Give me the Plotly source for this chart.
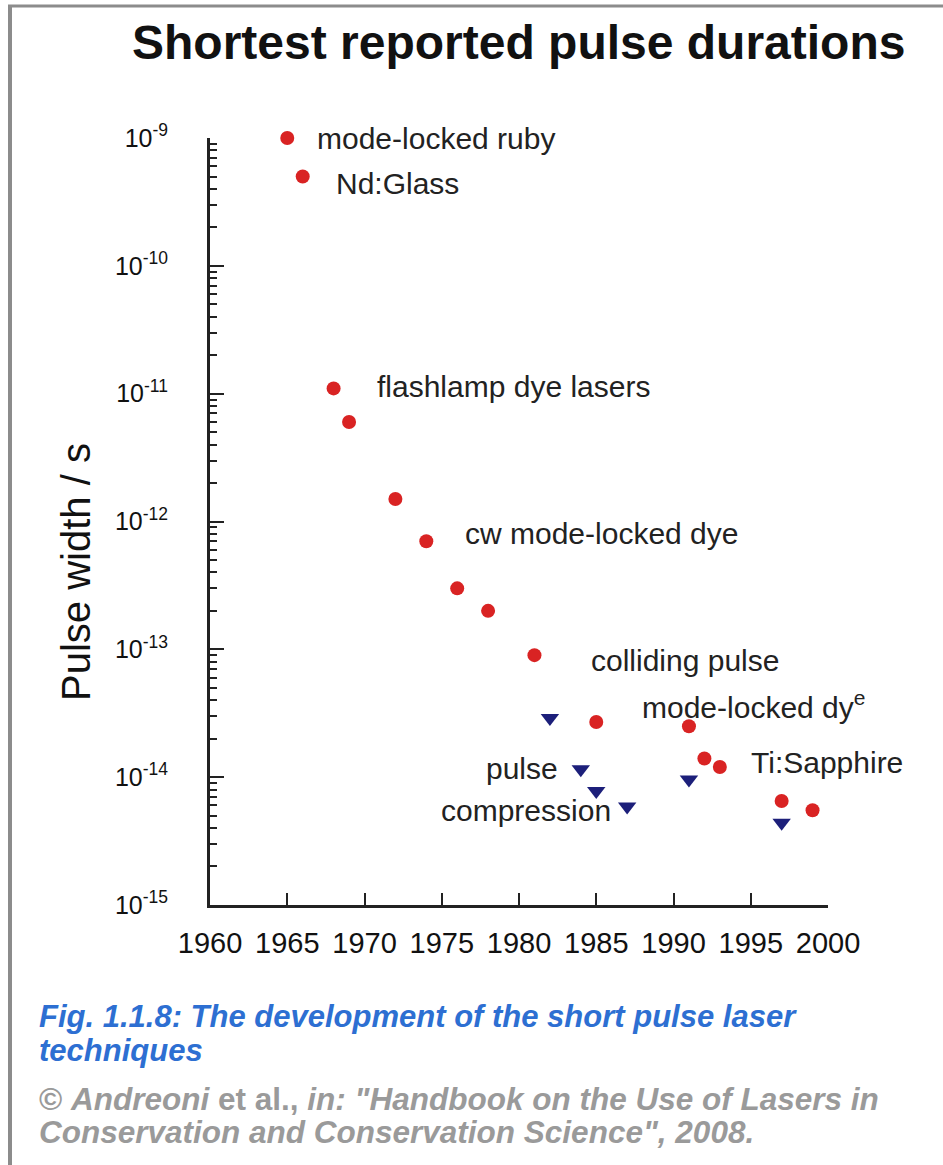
import numpy as np
import plotly.graph_objects as go

# Shortest reported pulse durations by year
red_years = [1965, 1966, 1968, 1969, 1972, 1974, 1976, 1978, 1981, 1985, 1991, 1992, 1993, 1997, 1999]
red_widths = [1e-9, 5e-10, 1.1e-11, 6e-12, 1.5e-12, 7e-13, 3e-13, 2e-13, 9e-14, 2.7e-14, 2.5e-14,
              1.4e-14, 1.2e-14, 6.5e-15, 5.5e-15]

# Pulse-compression results
blue_years = [1982, 1984, 1985, 1987, 1991, 1997]
blue_widths = [2.9e-14, 1.15e-14, 7.8e-15, 5.9e-15, 9.6e-15, 4.4e-15]

x_ticks = [1960, 1965, 1970, 1975, 1980, 1985, 1990, 1995, 2000]
y_decades = [-15, -14, -13, -12, -11, -10, -9]
y_ticktext = ["10<sup>%d</sup>" % d for d in y_decades]

# Technique labels: (text, year, pulse width, anchor)
labels = [
    ("mode-locked ruby", 1966.8, 1.0e-9, "left"),
    ("Nd:Glass", 1968.0, 4.4e-10, "left"),
    ("flashlamp dye lasers", 1970.7, 1.13e-11, "left"),
    ("cw mode-locked dye", 1976.4, 8.1e-13, "left"),
    ("colliding pulse", 1984.5, 8.2e-14, "left"),
    ("mode-locked dy<sup>e</sup>", 1987.8, 3.7e-14, "left"),
    ("Ti:Sapphire", 1994.9, 1.31e-14, "left"),
    ("pulse", 1982.65, 1.16e-14, "right"),
    ("compression", 1986.1, 5.5e-15, "right"),
]

W, H = 943, 1165
L, R, T, B = 210, 828, 138, 905  # plot area in pixels


def px(xp):
    return (xp - L) / (R - L)


def py(yp):
    return (B - yp) / (B - T)


FONT = "Liberation Sans, Arial, sans-serif"

fig = go.Figure()
fig.add_trace(go.Scatter(
    x=red_years, y=red_widths, mode="markers",
    marker=dict(symbol="circle", size=14, color="#d92323", line=dict(width=0)),
    cliponaxis=False, showlegend=False,
))
fig.add_trace(go.Scatter(
    x=blue_years, y=blue_widths, mode="markers",
    marker=dict(symbol="triangle-down", size=16, color="#1c1f7a", line=dict(width=0)),
    cliponaxis=False, showlegend=False,
))

minor_vals = [k * 10.0 ** d for d in y_decades[:-1] for k in range(2, 10)]

fig.update_xaxes(
    range=[x_ticks[0], x_ticks[-1]], tickmode="array", tickvals=x_ticks,
    ticks="inside", ticklen=12, tickwidth=2, tickcolor="#222",
    showline=True, linewidth=3, linecolor="#222", showgrid=False, zeroline=False,
    tickfont=dict(family=FONT, size=29, color="#111"), ticklabelstandoff=10,
)
fig.update_yaxes(
    type="log", range=[y_decades[0] - 0.0005, y_decades[-1] + 0.0005],
    tickmode="array", tickvals=[10.0 ** d for d in y_decades], ticktext=y_ticktext,
    ticks="inside", ticklen=14, tickwidth=2, tickcolor="#222",
    minor=dict(tickmode="array", tickvals=minor_vals, ticks="inside", ticklen=7,
               tickwidth=2, tickcolor="#222", showgrid=False),
    showline=True, linewidth=3, linecolor="#222", showgrid=False, zeroline=False,
    tickfont=dict(family=FONT, size=25, color="#111"), ticklabelstandoff=34,
)

ann = []
for text, yr, val, anchor in labels:
    ann.append(dict(x=yr, y=np.log10(val), xref="x", yref="y", text=text, showarrow=False,
                    xanchor=anchor, yanchor="middle",
                    font=dict(family=FONT, size=30, color="#222")))

ann.append(dict(x=px(518), y=py(43), xref="paper", yref="paper",
                text="<b>Shortest reported pulse durations</b>", showarrow=False,
                xanchor="center", yanchor="middle",
                font=dict(family=FONT, size=48, color="#111")))
ann.append(dict(x=px(76), y=py(572), xref="paper", yref="paper", text="Pulse width / s",
                textangle=-90, showarrow=False, xanchor="center", yanchor="middle",
                font=dict(family=FONT, size=40, color="#111")))

blue = "#2d6fd2"
grey = "#9a9a9a"
caption = [
    ("<b><i>Fig. 1.1.8: The development of the short pulse laser</i></b>", 1016, blue, 31),
    ("<b><i>techniques</i></b>", 1050, blue, 31),
    ("<b>© <i>Andreoni</i> et al., <i>in: \"Handbook on the Use of Lasers in</i></b>", 1099, grey, 31.5),
    ("<b><i>Conservation and Conservation Science\", 2008.</i></b>", 1132, grey, 31.5),
]
for text, ypix, color, size in caption:
    ann.append(dict(x=px(37), y=py(ypix), xref="paper", yref="paper", text=text,
                    showarrow=False, xanchor="left", yanchor="middle",
                    font=dict(family=FONT, size=size, color=color)))

# page frame on the left and top edges
shapes = [
    dict(type="line", xref="paper", yref="paper", x0=px(10), x1=px(10), y0=py(6), y1=py(H),
         line=dict(color="#8c8c8c", width=4)),
    dict(type="line", xref="paper", yref="paper", x0=px(8), x1=px(W), y0=py(6), y1=py(6),
         line=dict(color="#8c8c8c", width=3)),
]

fig.update_layout(
    width=W, height=H,
    margin=dict(l=L, r=W - R, t=T, b=H - B, autoexpand=False),
    paper_bgcolor="white", plot_bgcolor="white",
    annotations=ann, shapes=shapes,
    font=dict(family=FONT),
)

fig.write_html("out.html")
